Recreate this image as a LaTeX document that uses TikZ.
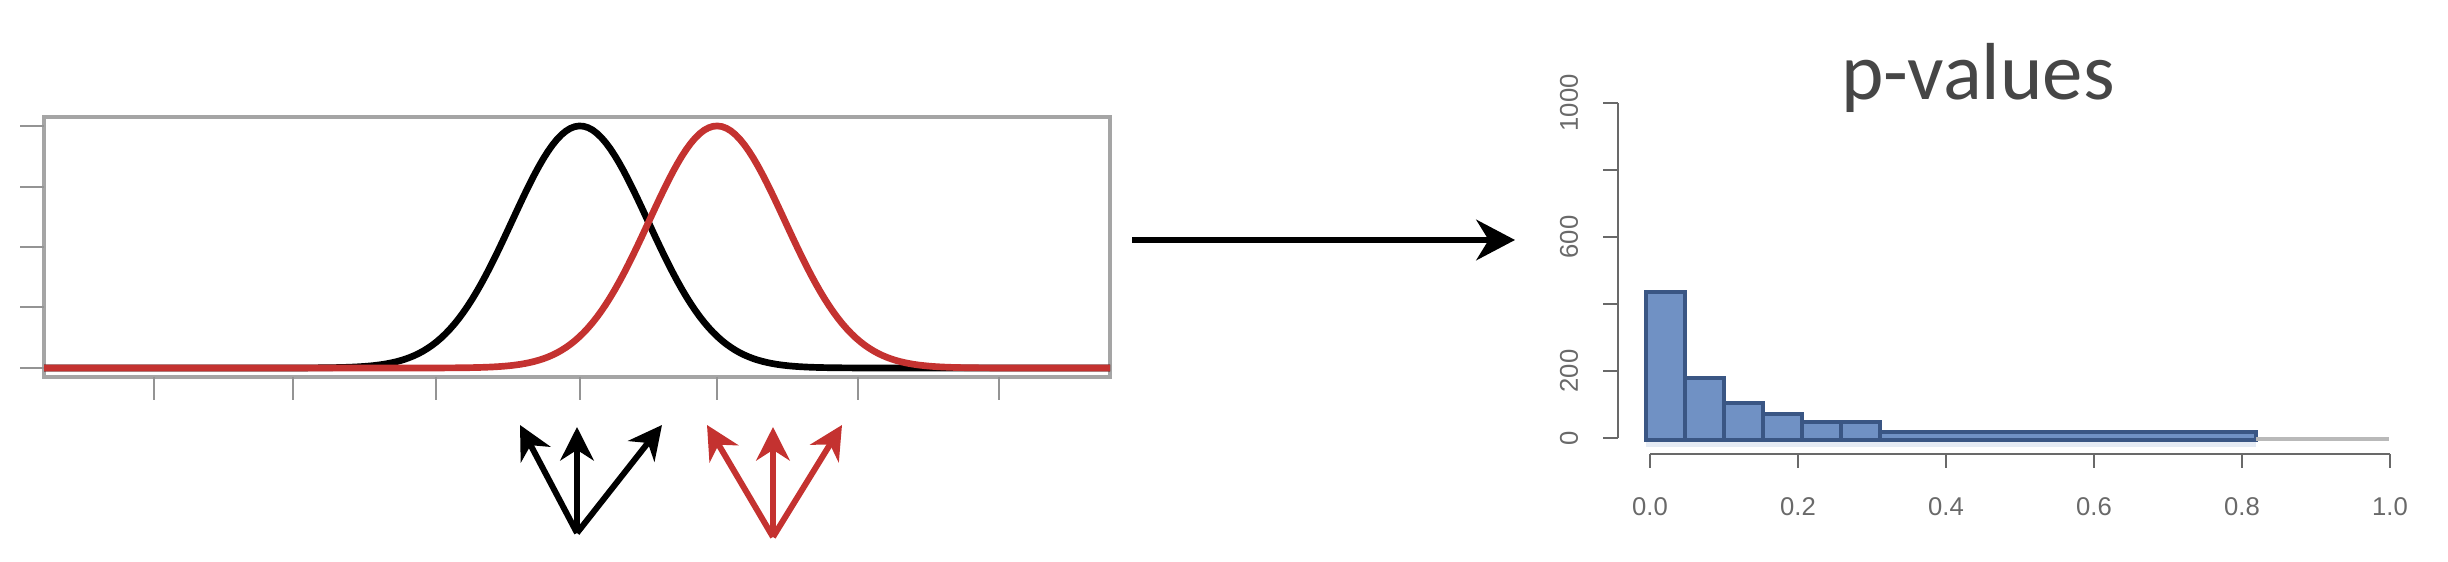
\documentclass[tikz,border=0pt]{standalone}
\usepackage{fontspec}
\setmainfont{Carlito}
\newfontfamily\axisfont{Liberation Sans}
\usetikzlibrary{arrows,arrows.meta}
\definecolor{curvered}{RGB}{196,50,48}
\definecolor{histfill}{RGB}{112,145,196}
\definecolor{histedge}{RGB}{58,86,132}
\definecolor{boxgray}{RGB}{165,165,165}
\definecolor{axisgray}{RGB}{105,105,105}
\definecolor{titlegray}{RGB}{70,70,70}

\begin{document}
\begin{tikzpicture}[->,>={Stealth[length=9.5pt,width=9.5pt,inset=3pt]},x=0.01cm,y=-0.01cm,
                    line width=1.7pt]
  \tikzstyle{frame}=[-,draw=boxgray,line width=1.3pt]
  \tikzstyle{tick}=[-,draw=boxgray!90!black,line width=0.8pt]
  \tikzstyle{bell}=[-,line width=1.9pt,line join=round]
  \tikzstyle{bar}=[-,fill=histfill,draw=histedge,line width=1.1pt]
  \tikzstyle{haxis}=[-,draw=axisgray,line width=0.6pt]
  \tikzstyle{numlabel}=[text=axisgray,font=\axisfont\fontsize{7.3}{8}\selectfont,inner sep=0pt]

  \useasboundingbox (0,0) rectangle (2448,562);

  % left panel: two shifted densities
  \draw[frame] (44,117) rectangle (1110,377);
  \foreach \y in {126,187,247,307,368} \draw[tick] (20,\y) -- (44,\y);
  \foreach \x in {154,293,436,580,717,858,999} \draw[tick] (\x,377) -- (\x,400);
  \draw[bell,black] plot[domain=44:1110,samples=240] (\x,{368-242*exp(-0.5*((\x-580)/68)^2)});
  \draw[bell,curvered] plot[domain=44:1110,samples=240] (\x,{368-242*exp(-0.5*((\x-717)/68)^2)});

  % draws below each mean
  \coordinate (b0) at (577,533);
  \coordinate (b1) at (520,425);
  \coordinate (b2) at (577,427);
  \coordinate (b3) at (662,425);
  \coordinate (r0) at (773,537);
  \coordinate (r1) at (707,425);
  \coordinate (r2) at (773,427);
  \coordinate (r3) at (842,425);

  \path (b0) edge (b1) edge (b2) edge (b3);
  \path[curvered] (r0) edge (r1) edge (r2) edge (r3);

  % big arrow
  \coordinate (src) at (1132,240);
  \coordinate (dst) at (1515,240);
  \draw[line width=1.6pt,-{Stealth[length=11pt,width=11.5pt,inset=3.5pt]}] (src) -- (dst);

  % right panel: histogram
  \node[text=titlegray,font=\fontsize{23}{26}\selectfont,anchor=base,inner sep=0pt] (title) at (1978,100) {p-values};

  \fill[-,histfill!18] (1646,440) rectangle (2256,447);
  \foreach \l/\t in {1646/292,1685/378,1724/403,1763/414,1802/422,1841/422}
    \draw[bar] (\l,440) rectangle ({\l+39},\t);
  \draw[bar] (1880,440) rectangle (2256,432);
  \draw[-,gray!55,line width=1pt] (2256,439) -- (2389,439);

  \draw[haxis] (1618,103) -- (1618,438);
  \foreach \y in {103,170,237,304,371,438} \draw[haxis] (1603,\y) -- (1618,\y);
  \foreach \v/\y in {1000/103,600/237,200/371,0/438}
    \node[numlabel,rotate=90] (y\v) at (1569,\y) {\v};

  \draw[haxis] (1650,454) -- (2390,454);
  \foreach \v [count=\i from 0] in {0.0,0.2,0.4,0.6,0.8,1.0} {
    \draw[haxis] ({1650+148*\i},454) -- ({1650+148*\i},468);
    \node[numlabel] (x\i) at ({1650+148*\i},507) {\v};
  }
\end{tikzpicture}
\end{document}
